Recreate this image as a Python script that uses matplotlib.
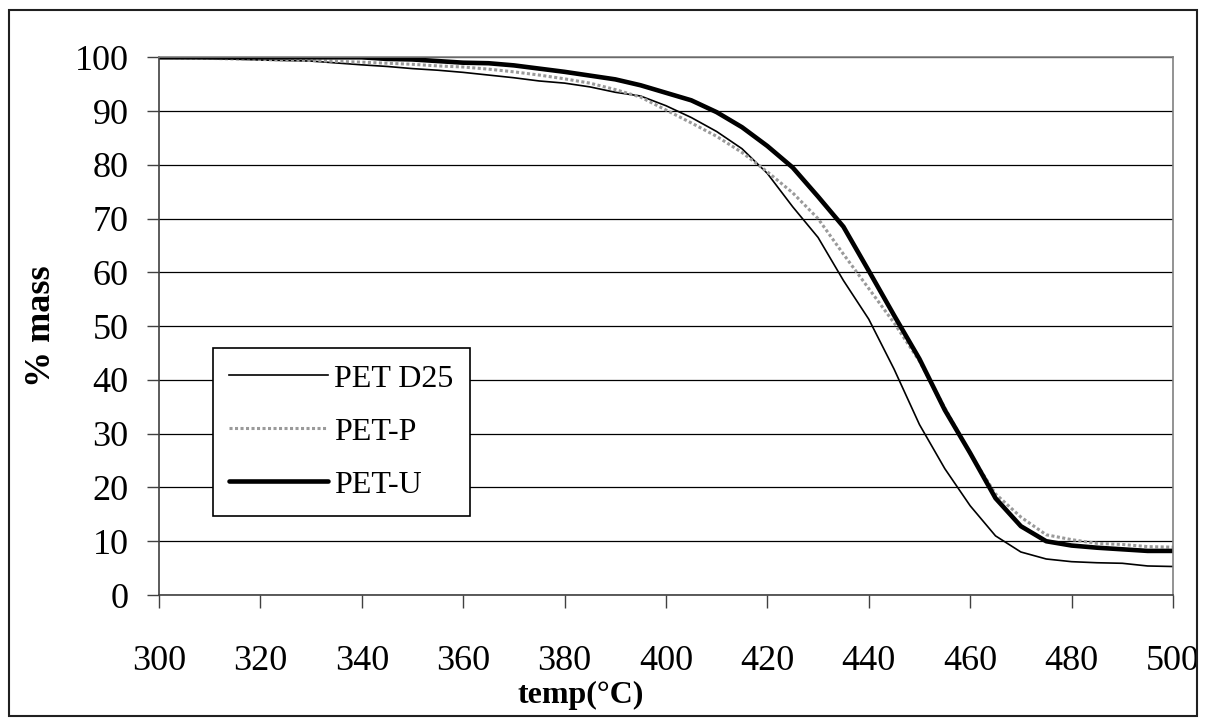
import matplotlib
matplotlib.use('Agg')
import matplotlib.pyplot as plt
from matplotlib.patches import Rectangle

plt.rcParams['font.family'] = ['Liberation Serif', 'DejaVu Serif']

temp = [300, 310, 320, 330, 340, 345, 350, 355, 360, 365, 370, 375, 380, 385,
        390, 395, 400, 405, 410, 415, 420, 425, 430, 435, 440, 445, 450, 455,
        460, 465, 470, 475, 480, 485, 490, 495, 500]

pet_d25 = [100, 99.8, 99.5, 99.3, 98.6, 98.3, 97.9, 97.6, 97.2, 96.7, 96.2, 95.6,
           95.2, 94.5, 93.5, 92.8, 91.0, 88.8, 86.2, 83.0, 78.4, 72.2, 66.5, 58.5,
           51.3, 42.0, 31.7, 23.5, 16.6, 11.0, 8.0, 6.7, 6.2, 6.0, 5.9, 5.4, 5.3]

pet_p = [100, 99.8, 99.6, 99.4, 99.1, 98.9, 98.7, 98.4, 98.2, 97.8, 97.3, 96.7,
         96.0, 95.2, 94.0, 92.6, 90.2, 87.8, 85.3, 82.3, 78.7, 74.8, 70.0, 63.4,
         57.0, 50.6, 43.5, 34.8, 26.3, 18.8, 14.5, 11.2, 10.3, 9.6, 9.4, 9.0, 8.9]

pet_u = [100, 100, 100, 100, 100, 99.7, 99.6, 99.3, 99.0, 98.9, 98.5, 97.9,
         97.3, 96.6, 95.9, 94.8, 93.4, 92.0, 89.8, 87.0, 83.5, 79.5, 74.1, 68.5,
         60.3, 52.0, 43.9, 34.4, 26.4, 18.0, 12.8, 10.0, 9.2, 8.8, 8.5, 8.2, 8.2]

x_ticks = list(range(300, 501, 20))
y_ticks = list(range(0, 101, 10))

fig = plt.figure(figsize=(12.06, 7.2), dpi=100)
ax = fig.add_axes([0.1318, 0.1736, 0.8408, 0.7468])

# outer chart frame
fig.patches.append(Rectangle((9 / 1206, 4 / 720), 1188 / 1206, 706 / 720,
                             transform=fig.transFigure, fill=False,
                             edgecolor='#202020', linewidth=1.5))

ax.plot(temp, pet_d25, color='black', linewidth=1.2, label='PET D25')
ax.plot(temp, pet_p, color='#9a9a9a', linewidth=2.2, linestyle=(0, (1, 0.8)),
        label='PET-P')
ax.plot(temp, pet_u, color='black', linewidth=3.3, label='PET-U',
        solid_capstyle='round')

ax.set_xlim(300, 500)
ax.set_ylim(0, 100)
ax.set_xticks(x_ticks)
ax.set_yticks(y_ticks)
ax.grid(axis='y', color='black', linewidth=0.9)
ax.set_axisbelow(True)

for side in ['top', 'right']:
    ax.spines[side].set_color('#808080')
    ax.spines[side].set_linewidth(1.2)
for side in ['left', 'bottom']:
    ax.spines[side].set_color('#404040')
    ax.spines[side].set_linewidth(1.2)

ax.tick_params(axis='y', direction='out', length=9, width=1, color='#404040',
               labelsize=26, pad=13)
ax.tick_params(axis='x', direction='out', length=9, width=1, color='#404040',
               labelsize=26, pad=27)

ax.set_ylabel('% mass', fontsize=26, fontweight='bold')
ax.yaxis.set_label_coords(-0.1, 0.5)
ax.set_xlabel('temp(°C)', fontsize=23, fontweight='bold')
ax.xaxis.set_label_coords(0.416, -0.186)
ax.xaxis.label.set_verticalalignment('center')

lgd = ax.legend(loc='upper left', bbox_to_anchor=(0.0533, 0.459),
                borderaxespad=0, fontsize=23, fancybox=False, frameon=True,
                edgecolor='black', handlelength=3.1, handletextpad=0.2,
                labelspacing=0.74, borderpad=0.5)
lgd.get_frame().set_linewidth(1.2)
lgd.get_frame().set_alpha(1)

plt.savefig('out.png', dpi=100)
